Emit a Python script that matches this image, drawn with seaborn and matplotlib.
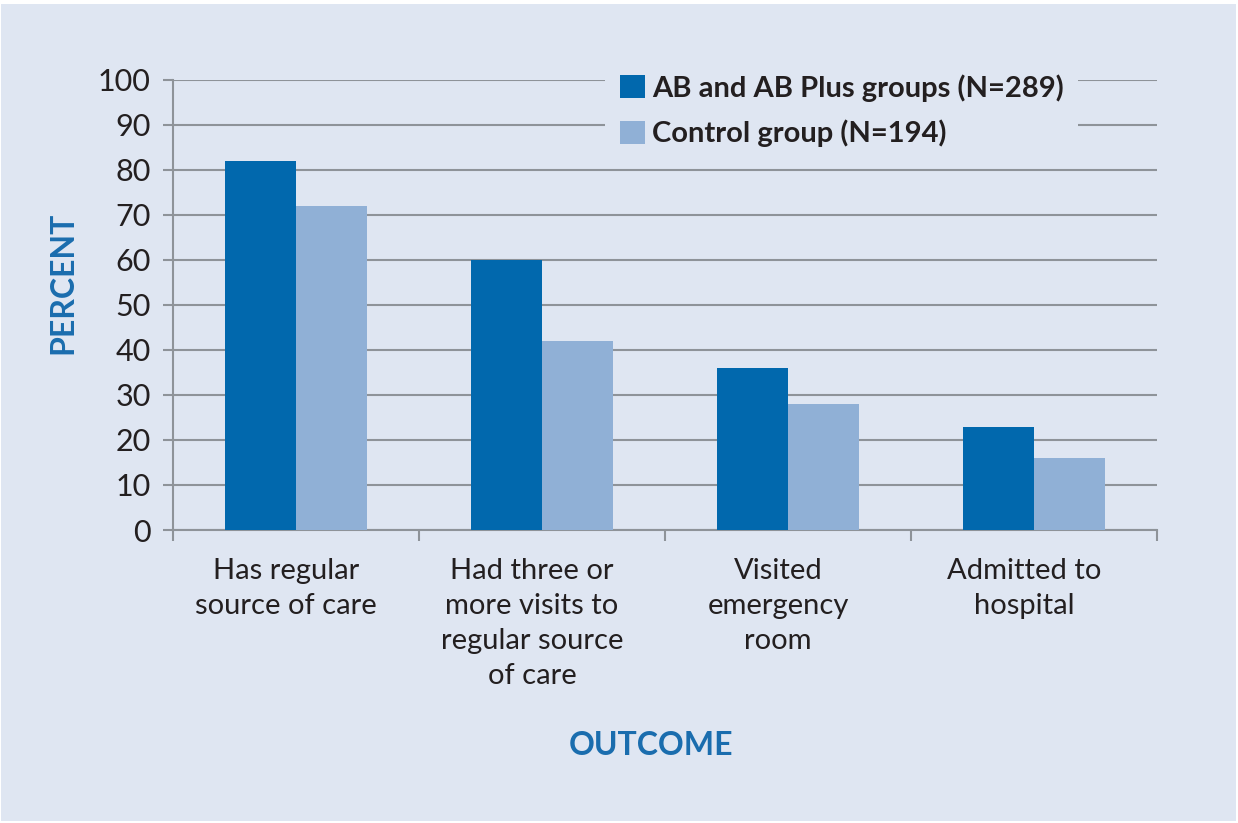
import matplotlib
matplotlib.use('Agg')
import matplotlib.pyplot as plt
from matplotlib.patches import Rectangle
from matplotlib.transforms import ScaledTranslation
import pandas as pd
import seaborn as sns

# data
outcomes = ['Has regular\nsource of care',
            'Had three or\nmore visits to\nregular source\nof care',
            'Visited\nemergency\nroom',
            'Admitted to\nhospital']
groups = ['AB and AB Plus groups (N=289)', 'Control group (N=194)']
ab_values = [82, 60, 36, 23]
control_values = [72, 42, 28, 16]

df = pd.DataFrame({
    'outcome': outcomes * 2,
    'group': [groups[0]] * len(outcomes) + [groups[1]] * len(outcomes),
    'percent': ab_values + control_values,
})

bg = '#DFE6F2'
dark = '#0168AD'
light = '#90B0D6'
label_blue = '#1A6DAE'
text_col = '#231F20'
grid_col = '#8E9399'

sns.set_style('white')
plt.rcParams['font.family'] = ['Lato', 'DejaVu Sans']

fig = plt.figure(figsize=(12.38, 8.23), dpi=100)
fig.patch.set_facecolor('white')
fig.patches.append(Rectangle((1 / 1238, 2 / 823), 1235 / 1238, 817 / 823,
                             transform=fig.transFigure, facecolor=bg,
                             edgecolor='none', zorder=-10))

ax = fig.add_axes([173 / 1238, 1 - 530 / 823, (1157 - 173) / 1238, 450 / 823])
ax.set_facecolor(bg)

sns.barplot(data=df, x='outcome', y='percent', hue='group',
            palette=[dark, light], width=0.575, saturation=1,
            linewidth=0, ax=ax, zorder=3)

ax.set_ylim(0, 100)
ax.set_xlim(-0.5, len(outcomes) - 0.5)
ax.set_yticks(range(0, 101, 10))
ax.yaxis.grid(True, color=grid_col, linewidth=1.5, zorder=0)
ax.set_axisbelow(True)

for side in ['top', 'right']:
    ax.spines[side].set_visible(False)
for side in ['left', 'bottom']:
    ax.spines[side].set_color(grid_col)
    ax.spines[side].set_linewidth(1.5)

ax.tick_params(axis='y', length=7, width=1.5, color=grid_col, pad=9,
               labelsize=22, labelcolor=text_col, left=True)
ax.tick_params(axis='x', which='major', length=0, pad=20,
               labelsize=21, labelcolor=text_col)
ax.set_xticks([i - 0.5 for i in range(len(outcomes) + 1)], minor=True)
ax.tick_params(axis='x', which='minor', length=8, width=1.5, color=grid_col,
               bottom=True, direction='out')
# labels sit a little left of the bar pairs in the original
shift = ScaledTranslation(-10 / 100, 0, fig.dpi_scale_trans)
for lbl in ax.get_xticklabels():
    lbl.set_linespacing(1.43)
    lbl.set_verticalalignment('top')
    lbl.set_transform(lbl.get_transform() + shift)

ax.set_xlabel('OUTCOME', fontsize=23, fontweight='bold', color=label_blue)
ax.xaxis.set_label_coords(0.486, -0.446)
ax.set_ylabel('PERCENT', fontsize=23, fontweight='bold', color=label_blue)
ax.yaxis.set_label_coords(-0.097, 0.549)

leg = ax.legend(loc='upper right', bbox_to_anchor=(0.935, 1.078), frameon=True,
                fontsize=21, handlelength=0.85, handleheight=0.85,
                handletextpad=0.25, labelspacing=0.62, borderpad=0.5)
leg.get_frame().set_facecolor(bg)
leg.get_frame().set_edgecolor('none')
leg.get_frame().set_alpha(1)
for t in leg.get_texts():
    t.set_fontweight('bold')
    t.set_color(text_col)
leg.set_zorder(5)

fig.savefig('out.png', dpi=100, facecolor=fig.get_facecolor())
